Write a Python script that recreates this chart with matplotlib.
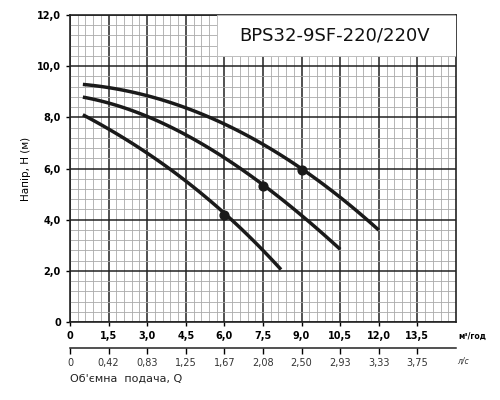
import matplotlib
matplotlib.use("Agg")
import matplotlib.pyplot as plt
import numpy as np
from matplotlib.ticker import MultipleLocator

q1 = [0.5, 3.0, 6.0, 9.0, 12.0]
h1 = [9.3, 8.8, 7.8, 5.95, 3.6]
q2 = [0.5, 3.0, 6.0, 7.5, 10.5]
h2 = [8.8, 8.0, 6.5, 5.3, 2.85]
q3 = [0.5, 3.0, 6.0, 8.2]
h3 = [8.1, 6.6, 4.25, 2.05]
pts_q = [6.0, 7.5, 9.0]
pts_h = [4.2, 5.3, 5.95]
xticks = [0, 1.5, 3.0, 4.5, 6.0, 7.5, 9.0, 10.5, 12.0, 13.5]
xlabels = ["0", "1,5", "3,0", "4,5", "6,0", "7,5", "9,0", "10,5", "12,0", "13,5"]
lslabels = ["0", "0,42", "0,83", "1,25", "1,67", "2,08", "2,50", "2,93", "3,33", "3,75"]
yticks = [0, 2, 4, 6, 8, 10, 12]
ylabels = ["0", "2,0", "4,0", "6,0", "8,0", "10,0", "12,0"]

fig = plt.figure(figsize=(5, 4), dpi=100)
ax = fig.add_axes([0.14, 0.195, 0.772, 0.7675])
ax.set_xlim(0, 15)
ax.set_ylim(0, 12)
ax.xaxis.set_minor_locator(MultipleLocator(0.3))
ax.yaxis.set_minor_locator(MultipleLocator(0.4))
ax.grid(which='minor', color='#aaaaaa', lw=0.6)
ax.grid(which='major', color='#222222', lw=1.1)
ax.set_axisbelow(True)
for s in ax.spines.values():
    s.set_color('#222222'); s.set_linewidth(1.2)
ax.tick_params(which='minor', length=0)
ax.set_xticks(xticks)
ax.set_xticklabels(xlabels, fontsize=7, fontweight='bold')
ax.set_yticks(yticks)
ax.set_yticklabels(ylabels, fontsize=7, fontweight='bold')
ax.tick_params(which='major', length=3, width=1)

def smooth(q, h):
    c = np.polyfit(q, h, min(3, len(q) - 1))
    x = np.linspace(q[0], q[-1], 100)
    return x, np.polyval(c, x)

for q, h in [(q1, h1), (q2, h2), (q3, h3)]:
    x, y = smooth(q, h)
    ax.plot(x, y, color='#1a1a1a', lw=2.5, solid_capstyle='butt')
ax.scatter(pts_q, pts_h, s=40, color='#1a1a1a', zorder=5)

ax.add_patch(plt.Rectangle((5.7, 10.4), 9.3, 1.6, facecolor='white', edgecolor='#bbbbbb', lw=0.6, zorder=3))
ax.text(10.3, 11.2, "BPS32-9SF-220/220V", fontsize=13, ha='center', va='center', zorder=4, color='#111111')
ax.set_ylabel("Напір, H (м)", fontsize=7.5)
ax.text(15.1, -0.55, "м³/год", fontsize=5.5, fontweight='bold', ha='left', va='center', clip_on=False)

ax2 = fig.add_axes([0.14, 0.13, 0.772, 0.0001])
ax2.set_xlim(0, 15)
ax2.set_yticks([])
for k in ['left', 'right', 'top']:
    ax2.spines[k].set_visible(False)
ax2.spines['bottom'].set_color('#222222'); ax2.spines['bottom'].set_linewidth(1.1)
ax2.set_xticks(xticks)
ax2.set_xticklabels(lslabels, fontsize=7, color='#333333')
ax2.tick_params(length=4, width=1)
fig.text(0.915, 0.09, "л/с", fontsize=5.5, style='italic', color='#333333')
fig.text(0.14, 0.045, "Об'ємна  подача, Q", fontsize=8, color='#222222')
fig.savefig("out.png", dpi=100)
